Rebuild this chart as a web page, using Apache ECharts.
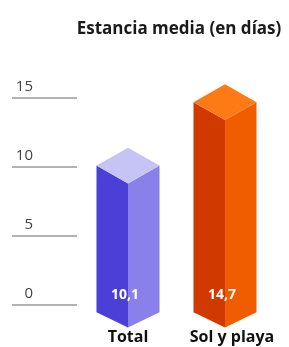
<!DOCTYPE html>
<html>
<head>
<meta charset="utf-8">
<script src="https://cdn.jsdelivr.net/npm/echarts@6/dist/echarts.min.js"></script>
<style>
html,body{margin:0;padding:0;background:#fff;}
#c{width:289px;height:347px;}
</style>
</head>
<body>
<div id="c"></div>
<script>
const titleText = 'Estancia media (en días)';
const categories = ['Total', 'Sol y playa'];
const values = [10.1, 14.7];
const valueLabels = ['10,1', '14,7'];
const yTicks = [0, 5, 10, 15];

const faceColors = [
  { left: '#4b3fd8', right: '#8a80ea', top: '#c6c4f5' },
  { left: '#d03a00', right: '#f05d00', top: '#ff7a14' }
];

const chart = echarts.init(document.getElementById('c'), null, { renderer: 'canvas' });

function renderItem(params, api) {
  const idx = api.value(0);
  const val = api.value(1);
  const pt = api.coord([idx, val]);
  const base = api.coord([idx, 0]);
  const band = api.size([1, 0])[0];
  const w = band * 0.325;
  const d = w * 0.57;
  const cx = pt[0];
  const top = pt[1];
  const sideEnd = base[1] + d * 0.4;
  const pointY = sideEnd + d * 0.85;
  const c = faceColors[idx];
  return {
    type: 'group',
    children: [
      { type: 'polygon', shape: { points: [[cx - w, top], [cx, top + d], [cx, pointY], [cx - w, sideEnd]] }, style: { fill: c.left } },
      { type: 'polygon', shape: { points: [[cx, top + d], [cx + w, top], [cx + w, sideEnd], [cx, pointY]] }, style: { fill: c.right } },
      { type: 'polygon', shape: { points: [[cx, top - d], [cx + w, top], [cx, top + d], [cx - w, top]] }, style: { fill: c.top } },
      { type: 'text', x: cx - 3, y: base[1] - 10, style: { text: valueLabels[idx], fill: '#ffffff', font: 'bold 14px "Open Sans", sans-serif', align: 'center', verticalAlign: 'middle' } }
    ]
  };
}

chart.setOption({
  animation: false,
  title: {
    text: titleText,
    left: 174,
    textAlign: 'center',
    top: 16,
    textStyle: { fontFamily: 'Open Sans', fontWeight: 'bold', fontSize: 17, color: '#1a1a1a' }
  },
  grid: [
    { left: 12, width: 65, top: 98, bottom: 42 },
    { left: 79.5, right: 15.5, top: 98, bottom: 42 }
  ],
  xAxis: [
    { gridIndex: 0, type: 'value', show: false, min: 0, max: 1 },
    {
      gridIndex: 1, type: 'category', data: categories,
      axisLine: { show: false }, axisTick: { show: false },
      axisLabel: {
        interval: 0, hideOverlap: false,
        margin: 24, color: '#111', fontFamily: 'Open Sans', fontWeight: 'bold', fontSize: 16,
        formatter: function (v) { return v === 'Sol y playa' ? '{b|' + v + '}' : '{a|' + v + '}'; },
        rich: {
          a: { fontFamily: 'Open Sans', fontWeight: 'bold', fontSize: 16, color: '#111' },
          b: { fontFamily: 'Open Sans', fontWeight: 'bold', fontSize: 16, color: '#111', padding: [0, 0, 0, 14] }
        }
      }
    }
  ],
  yAxis: [
    {
      gridIndex: 0, type: 'value', min: 0, max: 15, interval: 5,
      axisLine: { show: false }, axisTick: { show: false },
      splitLine: { show: true, lineStyle: { color: '#9a9a9a', width: 1.5 } },
      axisLabel: {
        margin: -21, align: 'right', verticalAlign: 'bottom', padding: [0, 0, 4, 0],
        color: '#444', fontFamily: 'Open Sans', fontSize: 15
      }
    },
    { gridIndex: 1, type: 'value', min: 0, max: 15, interval: 5, show: false, splitLine: { show: false } }
  ],
  series: [
    {
      type: 'custom',
      xAxisIndex: 1, yAxisIndex: 1,
      renderItem: renderItem,
      data: values.map(function (v, i) { return [i, v]; })
    }
  ]
});
</script>
</body>
</html>
